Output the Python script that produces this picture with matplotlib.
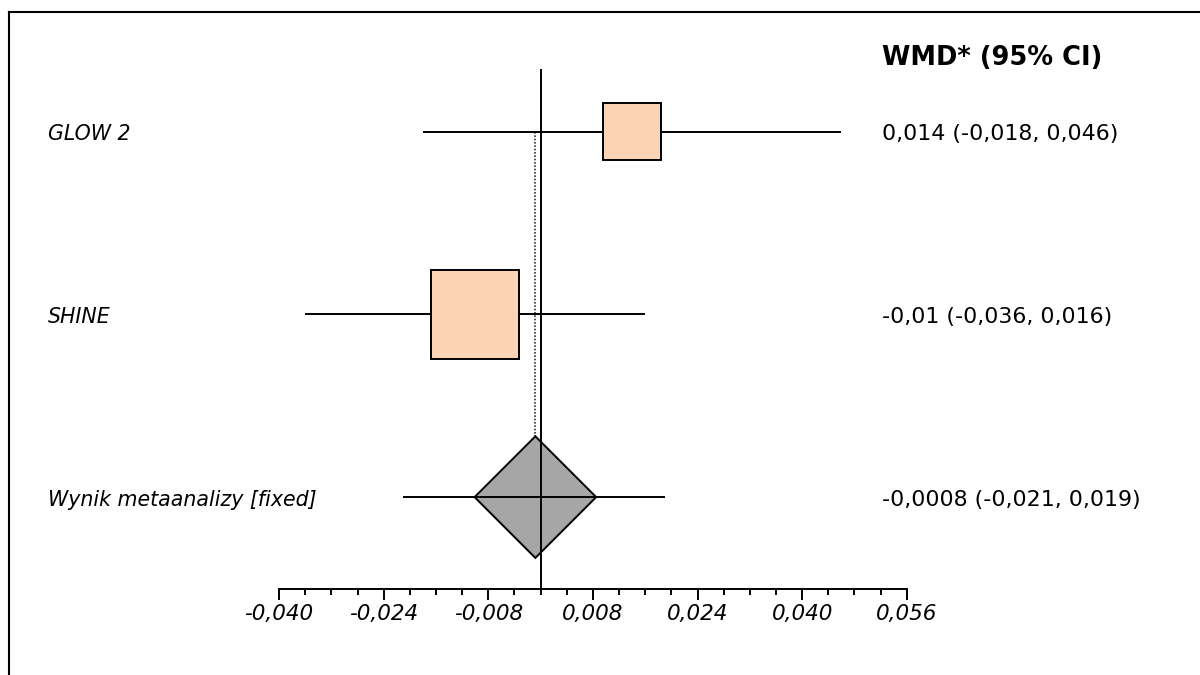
import matplotlib
matplotlib.use('Agg')
import matplotlib.pyplot as plt
import matplotlib.transforms as mtransforms
from matplotlib.patches import Rectangle, Polygon
from matplotlib.lines import Line2D
from matplotlib.ticker import FuncFormatter

plt.rcParams['font.family'] = ['DejaVu Sans']

# study rows
studies = ['GLOW 2', 'SHINE']
wmd = [0.014, -0.01]
ci_low = [-0.018, -0.036]
ci_high = [0.046, 0.016]
box_size = [0.0088, 0.0135]

# pooled result
pooled_label = 'Wynik metaanalizy [fixed]'
pooled_wmd = -0.0008
pooled_low = -0.021
pooled_high = 0.019
pooled_halfwidth = 0.0093

header = 'WMD* (95% CI)'
value_labels = ['0,014 (-0,018, 0,046)', '-0,01 (-0,036, 0,016)',
                '-0,0008 (-0,021, 0,019)']

axis_min, axis_max = -0.040, 0.056
major_step, minor_step = 0.016, 0.004

# layout (pixels of a 1200x675 canvas)
W, H = 1200, 675
zero_px, px_per_unit = 540.6, 6539.0
row0_px, row_px = 131.7, 182.7
axis_px = 589.0

fig = plt.figure(figsize=(12, 6.75), dpi=100)
ax = fig.add_axes([0, 0, 1, 1])
xmin = -zero_px / px_per_unit
xmax = (W - zero_px) / px_per_unit
ytop = -row0_px / row_px
ybot = (H - row0_px) / row_px
ax.set_xlim(xmin, xmax)
ax.set_ylim(ybot, ytop)


def prow(px):
    return (px - row0_px) / row_px


lw = 1.4
edge = 'black'

# study whiskers and boxes
for i, (m, lo, hi, s) in enumerate(zip(wmd, ci_low, ci_high, box_size)):
    ax.plot([lo, hi], [i, i], color=edge, lw=lw, zorder=2, solid_capstyle='butt')
    h = s * px_per_unit / row_px
    ax.add_patch(Rectangle((m - s / 2, i - h / 2), s, h, facecolor='#FAD4B4',
                           edgecolor=edge, lw=lw, zorder=3))

# pooled diamond
pr = len(studies)
dh = pooled_halfwidth * px_per_unit / row_px
ax.add_patch(Polygon([(pooled_wmd - pooled_halfwidth, pr), (pooled_wmd, pr - dh),
                      (pooled_wmd + pooled_halfwidth, pr), (pooled_wmd, pr + dh)],
                     closed=True, facecolor='#A6A6A6', edgecolor=edge, lw=lw, zorder=2))
ax.plot([pooled_low, pooled_high], [pr, pr], color=edge, lw=lw, zorder=4,
        solid_capstyle='butt')

# dotted pooled line and no-effect line
ax.plot([pooled_wmd, pooled_wmd], [0, pr - dh], color='#333333', lw=1.2,
        linestyle=(0, (1, 1)), zorder=1)
ax.plot([0, 0], [prow(70), prow(axis_px)], color=edge, lw=lw, zorder=5)

# x axis via bottom spine
for side in ['top', 'left', 'right']:
    ax.spines[side].set_visible(False)
ax.spines['bottom'].set_position(('data', prow(axis_px)))
ax.spines['bottom'].set_bounds(axis_min, axis_max)
ax.spines['bottom'].set_linewidth(lw)
ax.set_xticks([axis_min + k * major_step for k in range(7)])
ax.set_xticks([axis_min + k * minor_step for k in range(25)], minor=True)
ax.xaxis.set_major_formatter(FuncFormatter(lambda v, p: f'{v:.3f}'.replace('.', ',')))
ax.tick_params(axis='x', which='major', length=8, width=lw, direction='out', pad=3,
               labelsize=15.5)
ax.tick_params(axis='x', which='minor', length=4.3, width=lw, direction='out')
for t in ax.get_xticklabels():
    t.set_fontstyle('italic')
ax.set_yticks([])
ax.patch.set_visible(False)

# text columns
tr = mtransforms.blended_transform_factory(ax.transAxes, ax.transData)
for i, name in enumerate(studies + [pooled_label]):
    ax.text(48 / W, i + 0.015, name, transform=tr, fontsize=14.8, style='italic',
            va='center', ha='left')
for i, lab in enumerate(value_labels):
    ax.text(882 / W, i + 0.015, lab, transform=tr, fontsize=15.9, va='center', ha='left')
ax.text(882 / W, prow(58), header, transform=tr, fontsize=18.5, fontweight='bold',
        va='center', ha='left')

# outer frame (cut at right and bottom)
fig.add_artist(Line2D([9 / W, 9 / W], [0, 1 - 12 / H], color=edge, lw=1.5,
                      transform=fig.transFigure))
fig.add_artist(Line2D([9 / W, 1], [1 - 12 / H, 1 - 12 / H], color=edge, lw=1.5,
                      transform=fig.transFigure))

fig.savefig('out.png', dpi=100)
